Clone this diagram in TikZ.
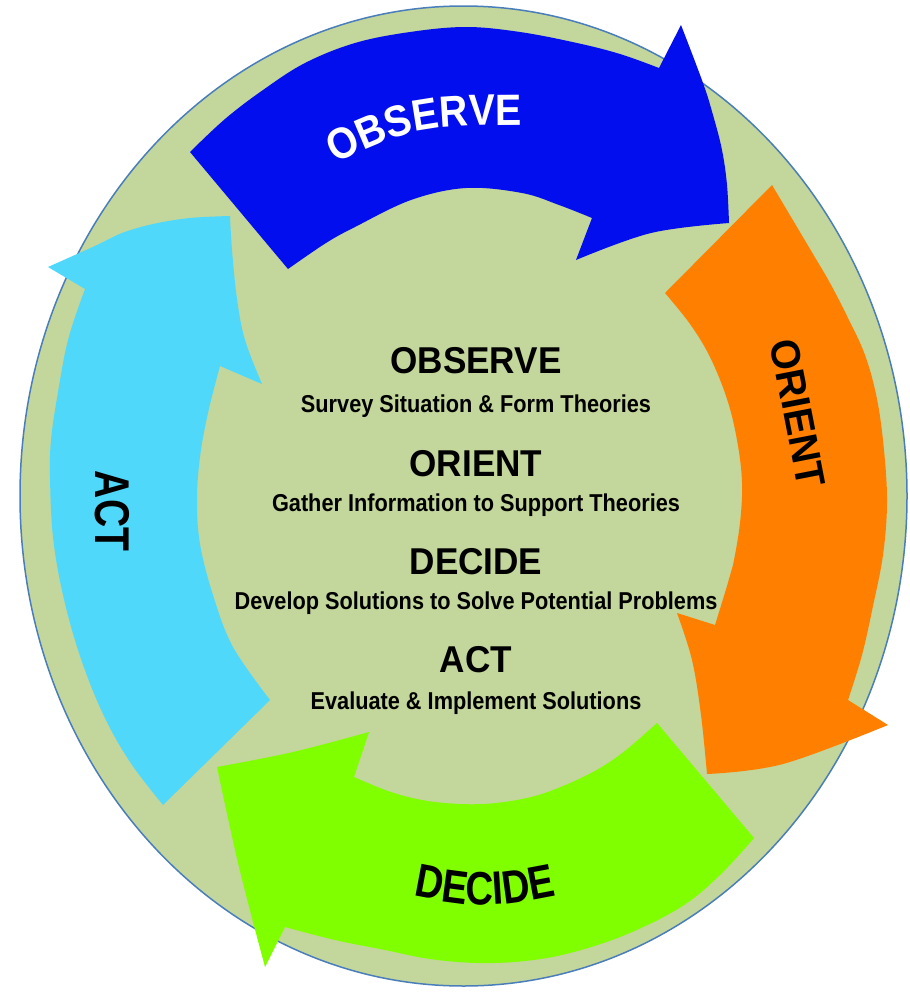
\documentclass[tikz,border=0pt]{standalone}
\usepackage{fontspec}
\setmainfont{Liberation Sans}
\newfontfamily\headfont{Liberation Sans}[FakeStretch=0.94]
\newfontfamily\subfont{Liberation Sans}[FakeStretch=0.89]
\newfontfamily\orientfont{Liberation Sans}[FakeStretch=0.97]
\newfontfamily\actfont{Liberation Sans}[FakeStretch=0.80]
\newfontfamily\decidefont{Liberation Sans}[FakeStretch=0.82]
\newfontfamily\observefont{Liberation Sans}[FakeStretch=0.90]
\usetikzlibrary{decorations.text}
\definecolor{ringfill}{RGB}{195,214,155}
\definecolor{ringline}{RGB}{74,126,187}
\definecolor{obsblue}{RGB}{2,14,238}
\definecolor{oriorange}{RGB}{255,128,0}
\definecolor{decgreen}{RGB}{128,255,0}
\definecolor{actcyan}{RGB}{80,216,250}
\begin{document}
\begin{tikzpicture}[x=1bp,y=-1bp,
  headtext/.style={font=\headfont\bfseries\fontsize{37.5}{40}\selectfont, anchor=base, inner sep=0pt},
  subtext/.style={font=\subfont\bfseries\fontsize{24.5}{27}\selectfont, anchor=base, inner sep=0pt},
  arrowlabel/.style={inner sep=0pt},
  sm/.style={smooth, tension=0.6}]
\fill[white] (0,0) rectangle (910,994);
\useasboundingbox (0,0) rectangle (910,994);

% ring
\draw[ringline, line width=1.5bp, fill=ringfill] (463.5,496) ellipse [x radius=443.5, y radius=490];

% ACT arrow (cyan)
\fill[actcyan] (48,267) -- (85,289)
  -- plot[sm] coordinates {(85,289) (68,340) (57,398) (51,440) (50,477) (53,537) (63,595) (80,656) (103,714) (130,762) (163,805)}
  -- (270,700)
  -- plot[sm] coordinates {(270,700) (233,647) (213,595) (200,544) (197,500) (200,457) (208,413) (220,366)}
  -- (262,384)
  -- plot[sm] coordinates {(262,384) (245,340) (237,299) (232,250) (230,216)}
  -- plot[sm] coordinates {(230,216) (190,218) (153,224) (122,233) (97,245) (48,267)}
  -- cycle;

% OBSERVE arrow (blue)
\fill[obsblue] (190,152) -- (288,269)
  -- plot[sm] coordinates {(288,269) (326,243) (355,227) (411,200) (466,188) (522,193) (559,205) (592,218)}
  -- (576,260)
  -- plot[sm] coordinates {(576,260) (651,233) (729,223)}
  -- plot[sm] coordinates {(729,223) (727,185) (722,150) (713,115) (703,83) (681,25)}
  -- (659,68)
  -- plot[sm] coordinates {(659,68) (620,54) (577,43) (520,32) (466,27) (410,32) (355,43) (305,63) (263,90) (225,119) (190,152)}
  -- cycle;

% ORIENT arrow (orange)
\fill[oriorange] (772,185) -- (665,293)
  -- plot[sm] coordinates {(665,293) (690,324) (710,357) (727,399) (737,440) (742,482) (740,523) (733,565) (727,586) (715,625)}
  -- (677,613)
  -- plot[sm] coordinates {(677,613) (692,660) (701,715) (707,774)}
  -- plot[sm] coordinates {(707,774) (783,764) (888,725)}
  -- (848,700)
  -- plot[sm] coordinates {(848,700) (862,655) (873,606) (883,555) (887,503) (884,450) (877,399) (865,355) (847,316) (830,283) (813,254) (772,185)}
  -- cycle;

% DECIDE arrow (green)
\fill[decgreen] (657,723) -- (754,838)
  -- plot[sm] coordinates {(754,838) (720,875) (681,907) (625,935) (570,953) (525,961) (478,963) (430,959) (385,950) (335,940) (285,927)}
  -- (265,967)
  -- plot[sm] coordinates {(265,967) (239,867) (217,767)}
  -- plot[sm] coordinates {(217,767) (293,752) (369,732)}
  -- (354,777)
  -- plot[sm] coordinates {(354,777) (388,791) (422,800) (460,804) (496,803) (535,796) (570,783) (600,768) (626,750) (657,723)}
  -- cycle;

% arrow labels
\path[decorate, decoration={text along path, text color=white, text align=center,
  text={|\observefont\bfseries\fontsize{44}{44}\selectfont|OBSERVE}}]
  (308,178) .. controls (412,125) .. (553,125);
\path[decorate, decoration={text along path, text color=black, text align=center,
  text={|\decidefont\bfseries\fontsize{47}{47}\selectfont|DECIDE}}]
  (365,885.5) .. controls (485,911.5) .. (605,885.5);
\node[arrowlabel, rotate=-79, font=\orientfont\bfseries\fontsize{41}{41}\selectfont] (lorient) at (798,413) {ORIENT};
\node[arrowlabel, rotate=-90, font=\actfont\bfseries\fontsize{49}{49}\selectfont] (lact) at (112,511) {ACT};

% centre text
\node[headtext] (hobs) at (476,373) {OBSERVE};
\node[subtext]  (sobs) at (476,412) {Survey Situation \& Form Theories};
\node[headtext] (hori) at (476,476) {ORIENT};
\node[subtext]  (sori) at (476,511) {Gather Information to Support Theories};
\node[headtext] (hdec) at (476,574) {DECIDE};
\node[subtext]  (sdec) at (476,609) {Develop Solutions to Solve Potential Problems};
\node[headtext] (hact) at (476,672) {ACT};
\node[subtext]  (sact) at (476,709) {Evaluate \& Implement Solutions};
\end{tikzpicture}
\end{document}
